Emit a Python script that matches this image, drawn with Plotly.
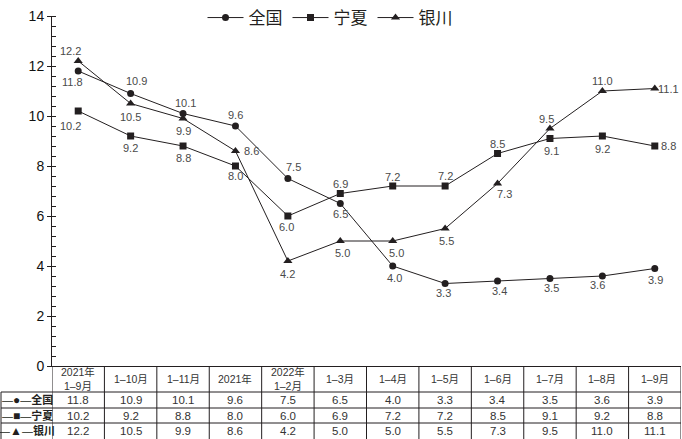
import plotly.graph_objects as go

categories = ["2021年<br>1–9月", "1–10月", "1–11月", "2021年", "2022年<br>1–2月", "1–3月",
              "1–4月", "1–5月", "1–6月", "1–7月", "1–8月", "1–9月"]
series_names = ["全国", "宁夏", "银川"]
quanguo = [11.8, 10.9, 10.1, 9.6, 7.5, 6.5, 4.0, 3.3, 3.4, 3.5, 3.6, 3.9]
ningxia = [10.2, 9.2, 8.8, 8.0, 6.0, 6.9, 7.2, 7.2, 8.5, 9.1, 9.2, 8.8]
yinchuan = [12.2, 10.5, 9.9, 8.6, 4.2, 5.0, 5.0, 5.5, 7.3, 9.5, 11.0, 11.1]
y_ticks = [0, 2, 4, 6, 8, 10, 12, 14]

# label offsets in pixels (dx, dy), dy positive = up
off_qg = [(-6, -11), (6, 13), (2, 11), (0, 11), (6, 12), (0, -10),
          (2, -12), (-2, -9), (2, -10), (2, -9), (-5, -9), (1, -11)]
off_nx = [(-8, -15), (0, -12), (0, -12), (0, -10), (-1, -11), (0, 10),
          (0, 9), (0, 10), (0, 10), (2, -12), (0, -13), (14, 0)]
off_yc = [(-8, 10), (0, -13), (0, -12), (16, 0), (0, -13), (2, -12),
          (4, -12), (1, -12), (7, -10), (-3, 10), (0, 10), (14, 0)]

INK = "#231f20"
LBL = "#4a4a4a"
FONT = "Liberation Sans, Arial, Noto Sans CJK SC"

W, H = 682, 439
ML, MR, MT, MB = 52, 1, 16, 73
PW = W - ML - MR
PH = H - MT - MB


def px2x(px):
    return (px - ML) / PW


def py2y(py):
    return (H - MB - py) / PH


fig = go.Figure()
series = [(quanguo, "circle", 7), (ningxia, "square", 7), (yinchuan, "triangle-up", 8)]
for name, (vals, sym, size) in zip(series_names, series):
    fig.add_trace(go.Scatter(
        x=categories, y=vals, name=name, mode="lines+markers",
        line=dict(color=INK, width=1),
        marker=dict(symbol=sym, size=size, color=INK),
        cliponaxis=False,
    ))

shapes = []
line_style = dict(color=INK, width=1)
n = len(categories)
for i in range(n + 1):
    shapes.append(dict(type="line", xref="x", yref="paper", x0=i - 0.5, x1=i - 0.5,
                       y0=0, y1=py2y(440), line=line_style))
shapes.append(dict(type="line", xref="paper", yref="paper", x0=px2x(1), x1=px2x(1),
                   y0=py2y(392), y1=py2y(440), line=line_style))
for py in [392, 408, 423]:
    shapes.append(dict(type="line", xref="paper", yref="paper", x0=px2x(1), x1=1,
                       y0=py2y(py), y1=py2y(py), line=line_style))

annotations = []
# data labels
for vals, offs in [(quanguo, off_qg), (ningxia, off_nx), (yinchuan, off_yc)]:
    for c, v, (dx, dy) in zip(categories, vals, offs):
        annotations.append(dict(x=c, y=v, xref="x", yref="y", text=f"{v:.1f}", showarrow=False,
                                xshift=dx, yshift=dy, xanchor="center", yanchor="middle",
                                font=dict(size=11, color=LBL, family=FONT)))
# table header
for i, c in enumerate(categories):
    annotations.append(dict(x=i, y=py2y(379), xref="x", yref="paper", text=c, showarrow=False,
                            font=dict(size=10.5, color="#333", family=FONT), xanchor="center", yanchor="middle"))
row_y = [400, 415.5, 431]
row_marks = ["●", "■", "▲"]
for r, (name, vals) in enumerate(zip(series_names, [quanguo, ningxia, yinchuan])):
    annotations.append(dict(x=px2x(27), y=py2y(row_y[r]), xref="paper", yref="paper",
                            text=f"—<span style='font-size:12px'>{row_marks[r]}</span>—<b>{name}</b>",
                            showarrow=False,
                            font=dict(size=11, color=INK, family=FONT), xanchor="center", yanchor="middle"))
    for i, v in enumerate(vals):
        annotations.append(dict(x=i, y=py2y(row_y[r]), xref="x", yref="paper", text=f"{v:.1f}",
                                showarrow=False, font=dict(size=11.5, color="#333", family=FONT),
                                xanchor="center", yanchor="middle"))

fig.update_layout(
    width=W, height=H,
    margin=dict(l=ML, r=MR, t=MT, b=MB, autoexpand=False),
    paper_bgcolor="white", plot_bgcolor="white",
    font=dict(family=FONT, color=INK),
    showlegend=True,
    legend=dict(orientation="h", x=px2x(330), xanchor="center", y=py2y(18), yanchor="middle",
                font=dict(size=17, color=INK, family=FONT), itemwidth=36,
                bgcolor="rgba(0,0,0,0)", traceorder="normal"),
    xaxis=dict(type="category", range=[-0.5, n - 0.5], showline=True, linecolor=INK, linewidth=1,
               showticklabels=False, ticks="", showgrid=False, zeroline=False),
    yaxis=dict(range=[0, 14], tickvals=y_ticks, showline=True, linecolor=INK, linewidth=1,
               ticks="outside", ticklen=4, tickcolor=INK, showgrid=False, zeroline=False,
               ticklabeloverflow="allow",
               tickfont=dict(size=14, color="#111", family=FONT),
               minor=dict(dtick=0.4, ticks="inside", ticklen=4, tickcolor=INK, showgrid=False)),
    shapes=shapes, annotations=annotations,
)

fig.write_html("out.html", config={"displayModeBar": False},
               post_script="document.body.style.margin='0';document.body.style.overflow='hidden';")
